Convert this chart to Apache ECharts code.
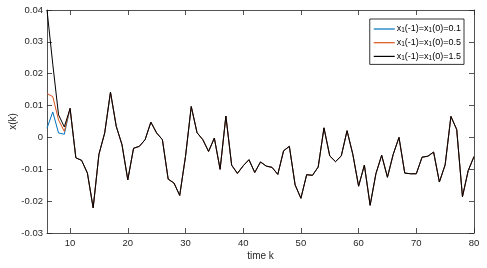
<!DOCTYPE html>
<html>
<head>
<meta charset="utf-8">
<script src="https://cdn.jsdelivr.net/npm/echarts@6/dist/echarts.min.js"></script>
<style>html,body{margin:0;padding:0;background:#fff}#c{width:487px;height:268px}</style>
</head>
<body>
<div id="c"></div>
<script>
// time steps k = 6 .. 80
const kValues = [];
for (let k = 6; k <= 80; k++) kValues.push(k);

// early part (k = 6..9) differs per initial condition
const head01 = [0.0029, 0.0080, 0.0014, 0.0010];
const head05 = [0.0138, 0.0128, 0.0055, 0.0019];
const head15 = [0.0400, 0.0230, 0.0071, 0.0033];

// shared trajectory for k = 10..80
const tailShared = [
  0.0091, -0.0064, -0.0072, -0.0112, -0.0221, -0.0053, 0.0014, 0.0142, 0.0035, -0.0023,
  -0.0133, -0.0034, -0.0028, -0.0007, 0.0048, 0.0014, -0.0007, -0.0131, -0.0143, -0.0182,
  -0.0060, 0.0097, 0.0015, -0.0007, -0.0044, -0.0002, -0.0100, 0.0067, -0.0087, -0.0113,
  -0.0089, -0.0070, -0.0110, -0.0077, -0.0090, -0.0094, -0.0116, -0.0042, -0.0028, -0.0149,
  -0.0191, -0.0117, -0.0119, -0.0093, 0.0030, -0.0058, -0.0076, -0.0058, 0.0021, -0.0053,
  -0.0153, -0.0087, -0.0213, -0.0114, -0.0056, -0.0125, -0.0053, 0.0000, -0.0112, -0.0114,
  -0.0114, -0.0062, -0.0059, -0.0046, -0.0140, -0.0086, 0.0066, 0.0025, -0.0186, -0.0104,
  -0.0060
];

const seriesNames = ['0.1', '0.5', '1.5'];
const seriesColors = ['#0072BD', '#D95319', '#000000'];
const xTicks = [10, 20, 30, 40, 50, 60, 70, 80];

const heads = [head01, head05, head15];
const axisColor = '#262626';
const font = 'Liberation Sans, Arial, Helvetica, sans-serif';

const chart = echarts.init(document.getElementById('c'), null, {renderer: 'canvas'});

const series = seriesNames.map((n, i) => ({
  name: '{n|x}{s|1}{n|(-1)=x}{s|1}{n|(0)=' + n + '}',
  type: 'line',
  data: kValues.map((k, j) => [k, heads[i].concat(tailShared)[j]]),
  showSymbol: false,
  symbol: 'none',
  lineStyle: {color: seriesColors[i], width: 1},
  itemStyle: {color: seriesColors[i]},
  animation: false,
  z: 2 + i
}));

const commonX = {
  type: 'value', min: 6, max: 80,
  axisLine: {show: true, onZero: false, lineStyle: {color: axisColor, width: 0.8}},
  axisTick: {show: true, inside: true, length: 5, customValues: xTicks, lineStyle: {color: axisColor, width: 0.8}},
  splitLine: {show: false}
};
const commonY = {
  type: 'value', min: -0.03, max: 0.04, interval: 0.01,
  axisLine: {show: true, onZero: false, lineStyle: {color: axisColor, width: 0.8}},
  axisTick: {show: true, inside: true, length: 5, lineStyle: {color: axisColor, width: 0.8}},
  splitLine: {show: false}
};

chart.setOption({
  animation: false,
  backgroundColor: '#fff',
  grid: {left: 47, top: 10, right: 13, bottom: 35, containLabel: false, outerBoundsMode: 'none'},
  legend: {
    show: true,
    orient: 'vertical',
    right: 23, top: 19,
    itemWidth: 21, itemHeight: 1.2, itemGap: 0.7,
    padding: [2, 3, 3, 4],
    borderColor: '#000', borderWidth: 0.8,
    backgroundColor: '#fff',
    icon: 'rect',
    textStyle: {
      fontFamily: font, fontSize: 9, color: '#000', padding: [0, 0, 0, -3],
      rich: {
        n: {fontFamily: font, fontSize: 9, color: '#000', lineHeight: 10, verticalAlign: 'middle'},
        s: {fontFamily: font, fontSize: 6.5, color: '#000', lineHeight: 8, verticalAlign: 'bottom', padding: [6, 0, 0, 0]}
      }
    },
    data: series.map(s => s.name)
  },
  xAxis: [
    Object.assign({}, commonX, {
      position: 'bottom',
      name: 'time k', nameLocation: 'middle', nameGap: 18, nameMoveOverlap: false,
      nameTextStyle: {fontFamily: font, fontSize: 10, color: axisColor},
      axisLabel: {show: true, customValues: xTicks, margin: 5, fontFamily: font, fontSize: 9.5, color: axisColor}
    }),
    Object.assign({}, commonX, {position: 'top', axisLabel: {show: false}})
  ],
  yAxis: [
    Object.assign({}, commonY, {
      position: 'left',
      name: 'x(k)', nameLocation: 'middle', nameGap: 29, nameRotate: 90, nameMoveOverlap: false,
      nameTextStyle: {fontFamily: font, fontSize: 10, color: axisColor},
      axisLabel: {show: true, margin: 4, fontFamily: font, fontSize: 9.5, color: axisColor,
        formatter: v => String(Number(v.toFixed(2)))}
    }),
    Object.assign({}, commonY, {position: 'right', axisLabel: {show: false}})
  ],
  series: series
});
</script>
</body>
</html>
